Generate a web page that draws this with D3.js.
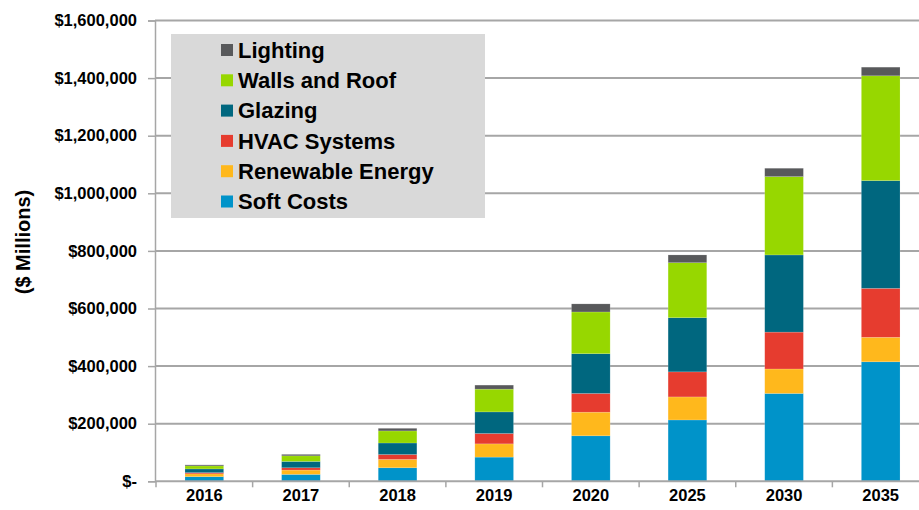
<!DOCTYPE html>
<html>
<head>
<meta charset="utf-8">
<script src="https://cdn.jsdelivr.net/npm/d3@7"></script>
<style>
    body { margin: 0; background: #fff; }
    text { font-family: "Liberation Sans", Arial, sans-serif; font-weight: bold; }
</style>
</head>
<body>
<svg id="chart"></svg>
<script>
// values ($ millions)
const years = ['2016', '2017', '2018', '2019', '2020', '2025', '2030', '2035'];
const softCosts = [16000, 24000, 47000, 84000, 158000, 213000, 305000, 415000];
const renewableEnergy = [10000, 15000, 29000, 46000, 82000, 80000, 85000, 85000];
const hvacSystems = [4000, 8000, 17000, 36000, 65000, 87000, 128000, 170000];
const glazing = [13000, 22000, 40000, 75000, 138000, 188000, 268000, 374000];
const wallsAndRoof = [10500, 19500, 42000, 79000, 145000, 191000, 272000, 364000];
const lighting = [3500, 5000, 9000, 14000, 28000, 27000, 29000, 30000];

const seriesNames = ['Soft Costs', 'Renewable Energy', 'HVAC Systems', 'Glazing', 'Walls and Roof', 'Lighting'];
const seriesColors = ['#0093c9', '#ffb81c', '#e63c2f', '#00677f', '#97d700', '#58595b'];
const yTicks = [0, 200000, 400000, 600000, 800000, 1000000, 1200000, 1400000, 1600000];

class stackedBarChart {

    constructor(config, data) {
        this.config = {
            parent: config.parent,
            width: config.width || 919,
            height: config.height || 510,
            margin: config.margin || { top: 20.5, right: -10, bottom: 28.7, left: 156 }
        };
        this.data = data;
        this.init();
    }

    init() {
        let self = this;
        let m = self.config.margin;

        self.svg = d3.select(self.config.parent)
            .attr('width', self.config.width)
            .attr('height', self.config.height);

        self.x = d3.scaleBand()
            .domain(years)
            .range([m.left, self.config.width - m.right])
            .padding(0);

        self.y = d3.scaleLinear()
            .domain([0, 1600000])
            .range([self.config.height - m.bottom, m.top]);

        self.colorScale = d3.scaleOrdinal()
            .domain(seriesNames)
            .range(seriesColors);

        self.stack = d3.stack().keys(seriesNames);
    }

    render() {
        let self = this;
        let m = self.config.margin;
        let x0 = m.left - 1;
        let right = self.config.width;

        // gridlines
        self.svg.append('g')
            .selectAll('line')
            .data(yTicks.slice(1))
            .join('line')
            .attr('x1', x0)
            .attr('x2', right)
            .attr('y1', d => self.y(d))
            .attr('y2', d => self.y(d))
            .attr('stroke', '#a6a6a6')
            .attr('stroke-width', 2);

        // y axis
        let yAxis = d3.axisLeft(self.y)
            .tickValues(yTicks)
            .tickSize(7)
            .tickPadding(11)
            .tickFormat(d => d === 0 ? '$-' : '$' + d3.format(',')(d));

        let gy = self.svg.append('g')
            .attr('transform', `translate(${x0},0)`)
            .call(yAxis);
        gy.select('.domain').attr('stroke', '#a6a6a6').attr('stroke-width', 1.5);
        gy.selectAll('.tick line').attr('stroke', '#a6a6a6').attr('stroke-width', 1.5);
        gy.selectAll('.tick text')
            .attr('fill', '#000')
            .style('font-size', '16.5px')
            .style('font-family', '"Liberation Sans", Arial, sans-serif')
            .style('font-weight', 'bold');

        // stacked bars
        let stacked = self.stack(self.data);
        let barW = self.x.bandwidth() * 0.4;

        let layers = self.svg.append('g')
            .selectAll('g')
            .data(stacked)
            .join('g')
            .attr('fill', d => self.colorScale(d.key));

        layers.selectAll('rect')
            .data(d => d)
            .join('rect')
            .attr('x', d => self.x(d.data.year) + (self.x.bandwidth() - barW) / 2)
            .attr('width', barW)
            .attr('y', d => self.y(d[1]))
            .attr('height', d => self.y(d[0]) - self.y(d[1]))
            .attr('stroke', 'rgba(255,255,255,0.25)')
            .attr('stroke-width', 0.6);

        // x axis baseline with ticks between categories
        let baseY = self.y(0);
        self.svg.append('line')
            .attr('x1', x0)
            .attr('x2', right)
            .attr('y1', baseY)
            .attr('y2', baseY)
            .attr('stroke', '#a6a6a6')
            .attr('stroke-width', 2);

        self.svg.append('g')
            .selectAll('line')
            .data(years)
            .join('line')
            .attr('x1', d => self.x(d))
            .attr('x2', d => self.x(d))
            .attr('y1', baseY)
            .attr('y2', baseY + 6)
            .attr('stroke', '#a6a6a6')
            .attr('stroke-width', 1.5);

        self.svg.append('g')
            .selectAll('text')
            .data(years)
            .join('text')
            .attr('x', d => self.x(d) + self.x.bandwidth() / 2)
            .attr('y', 501)
            .attr('text-anchor', 'middle')
            .style('font-size', '16.5px')
            .text(d => d);

        // y axis title
        self.svg.append('text')
            .attr('transform', 'translate(30,242) rotate(-90)')
            .attr('text-anchor', 'middle')
            .style('font-size', '20px')
            .text('($ Millions)');

        // legend
        let legend = self.svg.append('g');
        legend.append('rect')
            .attr('x', 171)
            .attr('y', 34)
            .attr('width', 314)
            .attr('height', 184)
            .attr('fill', '#d9d9d9');

        let items = legend.selectAll('.legend')
            .data(seriesNames.slice().reverse())
            .join('g')
            .attr('class', 'legend')
            .attr('transform', (d, i) => `translate(221, ${50 + i * 30.3})`);

        items.append('rect')
            .attr('x', 0)
            .attr('y', -6)
            .attr('width', 12)
            .attr('height', 12)
            .attr('fill', d => self.colorScale(d));

        items.append('text')
            .attr('x', 17)
            .attr('y', 0)
            .attr('dy', '.35em')
            .style('font-size', '22px')
            .text(d => d);
    }
}

let tableData = years.map((year, i) => ({
    year: year,
    'Soft Costs': softCosts[i],
    'Renewable Energy': renewableEnergy[i],
    'HVAC Systems': hvacSystems[i],
    'Glazing': glazing[i],
    'Walls and Roof': wallsAndRoof[i],
    'Lighting': lighting[i]
}));

let chart = new stackedBarChart({ parent: '#chart', width: 919, height: 510 }, tableData);
chart.render();
</script>
</body>
</html>
